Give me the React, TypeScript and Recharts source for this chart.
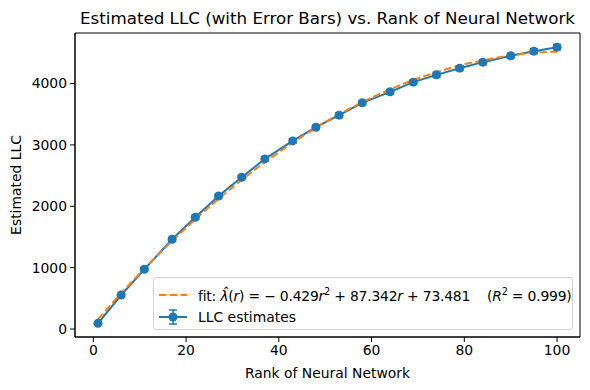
import React from "react";
import { ComposedChart, Line, XAxis, YAxis, ErrorBar, Label, ReferenceArea } from "recharts";

// values
const ranks = [1, 6, 11, 17, 22, 27, 32, 37, 43, 48, 53, 58, 64, 69, 74, 79, 84, 90, 95, 100];
const llcValues = [92, 554, 973, 1462, 1821, 2168, 2473, 2772, 3065, 3288, 3484, 3685, 3864, 4022, 4141, 4250, 4348, 4451, 4527, 4592];
const llcErrors = [20, 25, 28, 30, 32, 30, 35, 35, 38, 35, 40, 38, 40, 38, 42, 40, 40, 42, 40, 45];
const fitValues = [160, 582, 982, 1434, 1787, 2119, 2429, 2718, 3036, 3278, 3500, 3696, 3905, 4057, 4185, 4294, 4377, 4458, 4502, 4519];
const xTicks = [0, 20, 40, 60, 80, 100];
const yTicks = [0, 1000, 2000, 3000, 4000];
const xDomain = [-3.95, 104.95];
const yDomain = [-130, 4823];

const BLUE = "#1f77b4";
const ORANGE = "#ff7f0e";
const FONT = "'DejaVu Sans', sans-serif";

const chartData = ranks.map((rank, i) => ({
  rank,
  llc: llcValues[i],
  err: llcErrors[i],
  fit: fitValues[i],
}));

const tickStyle = { fill: "#000", fontSize: 13.9, fontFamily: FONT };

const LegendBox = () => (
  <div
    style={{
      position: "absolute",
      left: 153,
      top: 277,
      width: 420,
      height: 53,
      boxSizing: "border-box",
      border: "1px solid #d0d0d0",
      borderRadius: 3,
      background: "rgba(255,255,255,0.8)",
      fontFamily: FONT,
      fontSize: 13.9,
      color: "#000",
    }}
  >
    <div style={{ position: "absolute", left: 4, top: 8, height: 18, display: "flex", alignItems: "center", whiteSpace: "nowrap" }}>
      <svg width={30} height={10} style={{ marginRight: 10 }}>
        <line x1={1} y1={5} x2={29} y2={5} stroke={ORANGE} strokeWidth={2} strokeDasharray="7.5 3.3" />
      </svg>
      <span style={{ letterSpacing: -0.2 }}>
        fit: <i>λ̂</i>(<i>r</i>) = − 0.429<i>r</i>
        <sup style={{ fontSize: 9.7 }}>2</sup> + 87.342<i>r</i> + 73.481&nbsp;&nbsp;&nbsp; (<i>R</i>
        <sup style={{ fontSize: 9.7 }}>2</sup> = 0.999)
      </span>
    </div>
    <div style={{ position: "absolute", left: 4, top: 30, height: 18, display: "flex", alignItems: "center", whiteSpace: "nowrap" }}>
      <svg width={30} height={16} style={{ marginRight: 10 }}>
        <line x1={1} y1={8} x2={29} y2={8} stroke={BLUE} strokeWidth={2} />
        <line x1={15} y1={1} x2={15} y2={15} stroke={BLUE} strokeWidth={1.5} />
        <line x1={11} y1={1} x2={19} y2={1} stroke={BLUE} strokeWidth={1.5} />
        <line x1={11} y1={15} x2={19} y2={15} stroke={BLUE} strokeWidth={1.5} />
        <circle cx={15} cy={8} r={4.5} fill={BLUE} />
      </svg>
      <span>LLC estimates</span>
    </div>
  </div>
);

export default function App() {
  return (
    <div style={{ position: "absolute", left: 0, top: 0, width: 590, height: 390, background: "#fff" }}>
      <div
        style={{
          position: "absolute",
          left: 0,
          width: 655,
          top: 8,
          textAlign: "center",
          fontFamily: FONT,
          fontSize: 16.7,
          color: "#000",
          whiteSpace: "nowrap",
          zIndex: 2,
        }}
      >
        Estimated LLC (with Error Bars) vs. Rank of Neural Network
      </div>
      <ComposedChart width={590} height={390} data={chartData} margin={{ top: 33, right: 10, left: 0, bottom: 0 }}>
        <XAxis
          dataKey="rank"
          type="number"
          domain={xDomain}
          ticks={xTicks}
          allowDataOverflow
          height={53}
          tick={tickStyle}
          tickSize={5}
          tickMargin={3}
          axisLine={{ stroke: "#000" }}
          tickLine={{ stroke: "#000" }}
        >
          <Label value="Rank of Neural Network" position="insideBottom" offset={12} style={{ fill: "#000", fontSize: 13.9, fontFamily: FONT }} />
        </XAxis>
        <YAxis
          type="number"
          domain={yDomain}
          ticks={yTicks}
          allowDataOverflow
          width={75}
          tick={tickStyle}
          tickSize={5}
          tickMargin={3}
          axisLine={{ stroke: "#000" }}
          tickLine={{ stroke: "#000" }}
        >
          <Label value="Estimated LLC" angle={-90} position="insideLeft" offset={16} style={{ textAnchor: "middle", fill: "#000", fontSize: 13.9, fontFamily: FONT }} />
        </YAxis>
        {/* axes frame, like matplotlib's four spines */}
        <ReferenceArea x1={xDomain[0]} x2={xDomain[1]} y1={yDomain[0]} y2={yDomain[1]} fill="none" stroke="#000" strokeWidth={1} ifOverflow="visible" />
        <Line
          dataKey="llc"
          stroke={BLUE}
          strokeWidth={2}
          dot={{ r: 4.5, fill: BLUE, stroke: BLUE, strokeWidth: 0 }}
          activeDot={false}
          isAnimationActive={false}
          type="linear"
        >
          <ErrorBar dataKey="err" direction="y" width={4} stroke={BLUE} strokeWidth={1.5} isAnimationActive={false} />
        </Line>
        <Line
          dataKey="fit"
          stroke={ORANGE}
          strokeWidth={2}
          strokeDasharray="7.5 3.3"
          dot={false}
          activeDot={false}
          isAnimationActive={false}
          type="monotone"
        />
      </ComposedChart>
      <LegendBox />
    </div>
  );
}
